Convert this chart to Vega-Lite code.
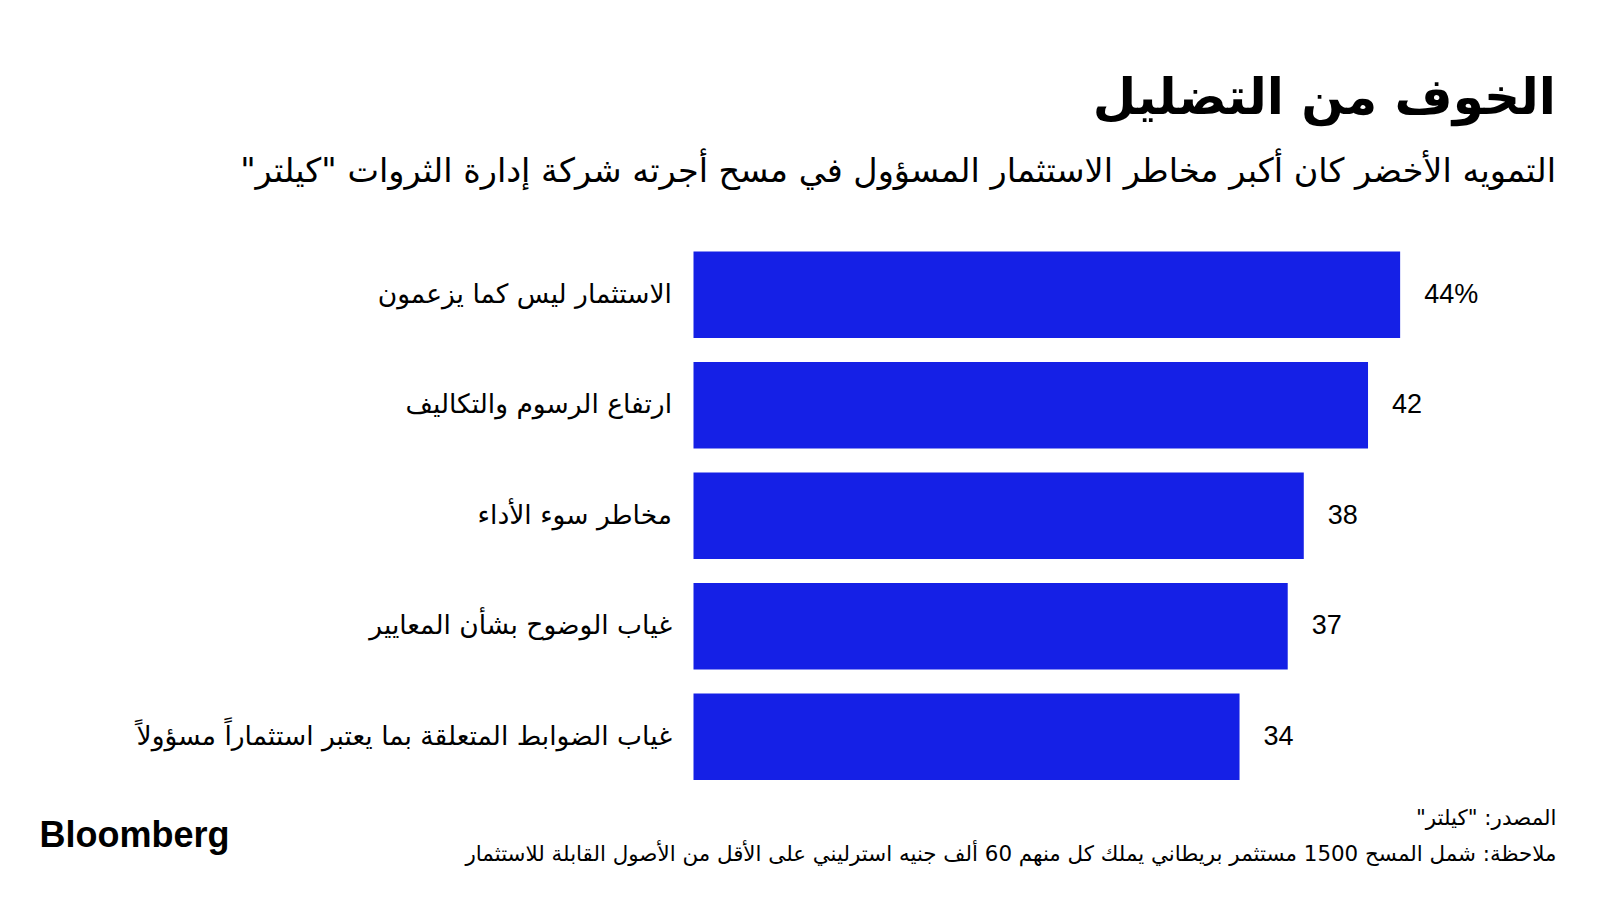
{
  "$schema": "https://vega.github.io/schema/vega-lite/v6.json",
  "width": 803,
  "height": 528.5,
  "autosize": {"type": "none"},
  "padding": {"left": 693.5, "top": 251.5, "right": 103.5, "bottom": 120},
  "background": "white",
  "title": {
    "text": "الخوف من التضليل",
    "subtitle": "التمويه الأخضر كان أكبر مخاطر الاستثمار المسؤول في مسح أجرته شركة إدارة الثروات \"كيلتر\"‏",
    "anchor": "end",
    "frame": "group",
    "dx": 59.5,
    "offset": 63,
    "font": "DejaVu Sans",
    "fontSize": 50,
    "fontWeight": "bold",
    "color": "#000000",
    "subtitleFont": "DejaVu Sans",
    "subtitleFontSize": 33.5,
    "subtitleColor": "#000000",
    "subtitlePadding": 32
  },
  "data": {
    "values": [
      {"risk": "الاستثمار ليس كما يزعمون", "pct": 44, "label": "44%"},
      {"risk": "ارتفاع الرسوم والتكاليف", "pct": 42, "label": "42"},
      {"risk": "مخاطر سوء الأداء", "pct": 38, "label": "38"},
      {"risk": "غياب الوضوح بشأن المعايير", "pct": 37, "label": "37"},
      {"risk": "غياب الضوابط المتعلقة بما يعتبر استثماراً مسؤولاً", "pct": 34, "label": "34"}
    ]
  },
  "encoding": {
    "y": {
      "field": "risk",
      "type": "nominal",
      "sort": null,
      "scale": {"paddingInner": 0.217, "paddingOuter": 0},
      "axis": {
        "title": "Bloomberg",
        "titleFont": "Liberation Sans",
        "titleFontSize": 36,
        "titleFontWeight": "bold",
        "titleColor": "#000000",
        "titleAngle": 0,
        "titleAlign": "left",
        "titleBaseline": "alphabetic",
        "titleX": -654.5,
        "titleY": 594.5,
        "ticks": false,
        "domain": false,
        "grid": false,
        "labelPadding": 22,
        "labelLimit": 800,
        "labelFont": "DejaVu Sans",
        "labelFontSize": 26.5,
        "labelColor": "#000000"
      }
    },
    "x": {
      "field": "pct",
      "type": "quantitative",
      "scale": {"domain": [0, 50]},
      "axis": {
        "title": ["المصدر: \"كيلتر\"‏", "ملاحظة: شمل المسح 1500 مستثمر بريطاني يملك كل منهم 60 ألف جنيه استرليني على الأقل من الأصول القابلة للاستثمار"],
        "titleFont": "DejaVu Sans",
        "titleFontSize": 21.4,
        "titleFontWeight": "normal",
        "titleColor": "#000000",
        "titleAlign": "right",
        "titleBaseline": "alphabetic",
        "titleLineHeight": 36,
        "titleX": 862.5,
        "titleY": 44.5,
        "labels": false,
        "ticks": false,
        "domain": false,
        "grid": false
      }
    }
  },
  "layer": [
    {"mark": {"type": "bar", "color": "#1520E6"}},
    {
      "mark": {"type": "text", "align": "left", "baseline": "middle", "dx": 24, "font": "Liberation Sans", "fontSize": 27, "color": "#000000"},
      "encoding": {"text": {"field": "label"}}
    }
  ],
  "config": {"view": {"stroke": null}}
}
